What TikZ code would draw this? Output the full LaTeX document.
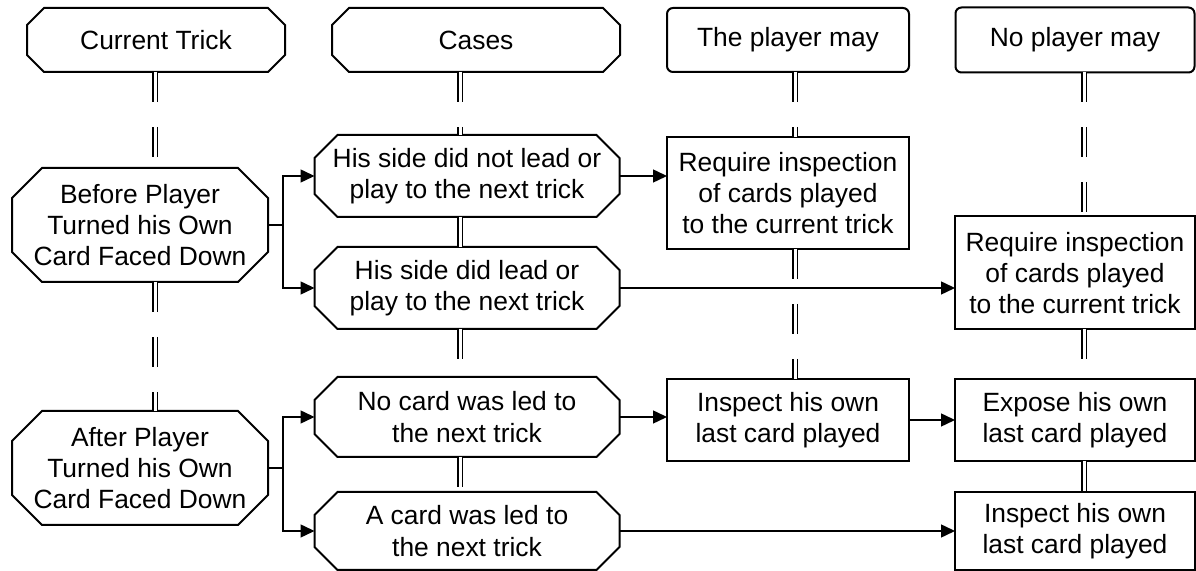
\documentclass[tikz,border=0pt]{standalone}
\usepackage{fontspec}
\setmainfont{Liberation Sans}
\usetikzlibrary{arrows.meta}

% octagon frame round a named node: #1 node, #2 size of the cut corners
\newcommand{\octframe}[2]{%
  \draw[line width=1pt] ([xshift=#2]#1.north west) -- ([xshift=-#2]#1.north east)
    -- ([yshift=-#2]#1.north east) -- ([yshift=#2]#1.south east)
    -- ([xshift=-#2]#1.south east) -- ([xshift=#2]#1.south west)
    -- ([yshift=#2]#1.south west) -- ([yshift=-#2]#1.north west) -- cycle;}

\begin{document}
\begin{tikzpicture}[x=0.5pt, y=-0.5pt,
  every node/.style={align=center, inner sep=0pt, outer sep=0pt, font=\fontsize{13.2pt}{15.6pt}\selectfont},
  rbox/.style={draw, line width=1pt, rounded corners=3pt},
  sbox/.style={draw, line width=1pt},
  link/.style={double, line width=0.65pt, double distance=1.5pt, dash pattern=on 15pt off 12.5pt},
  arr/.style={->, line width=0.75pt}, >={Triangle[length=7pt,width=6.5pt]}]
\useasboundingbox (0,0) rectangle (1196,571);
% Headers:
\node[minimum width=129pt, minimum height=32pt] (hCur) at (156,40) {Current Trick};
\node[minimum width=144pt, minimum height=32pt] (hCase) at (476,40) {Cases};
\node[rbox, minimum width=121pt, minimum height=32pt] (hMay) at (788,40) {The player may};
\node[rbox, minimum width=119.5pt, minimum height=32.5pt] (hNo) at (1075,40) {No player may};
% Current trick:
\node[minimum width=128pt, minimum height=57pt] (before) at (140,225) {Before Player\\Turned his Own\\Card Faced Down};
\node[minimum width=128pt, minimum height=57pt] (after) at (140,468) {After Player\\Turned his Own\\Card Faced Down};
% Cases:
\node[minimum width=152.5pt, minimum height=41pt] (cNot) at (467,176) {His side did not lead or\\play to the next trick};
\node[minimum width=152.5pt, minimum height=41pt] (cDid) at (467,288) {His side did lead or\\play to the next trick};
\node[minimum width=152.5pt, minimum height=40pt] (cNoCard) at (467,417) {No card was led to\\the next trick};
\node[minimum width=152.5pt, minimum height=39pt] (cCard) at (467,531) {A card was led to\\the next trick};
% The player may:
\node[sbox, minimum width=121pt, minimum height=56pt] (req1) at (788,193) {Require inspection\\of cards played\\to the current trick};
\node[sbox, minimum width=121pt, minimum height=41pt] (insp1) at (788,420) {Inspect his own\\last card played};
% No player may:
\node[sbox, minimum width=120pt, minimum height=56.5pt] (req2) at (1075,273) {Require inspection\\of cards played\\to the current trick};
\node[sbox, minimum width=120pt, minimum height=41pt] (expose) at (1075,420) {Expose his own\\last card played};
\node[sbox, minimum width=120pt, minimum height=39pt] (insp2) at (1075,531) {Inspect his own\\last card played};
% Octagon frames:
\octframe{hCur}{8.5pt}
\octframe{hCase}{8.5pt}
\octframe{before}{15pt}
\octframe{after}{15pt}
\octframe{cNot}{11.5pt}
\octframe{cDid}{11.5pt}
\octframe{cNoCard}{11.5pt}
\octframe{cCard}{11.5pt}
% Column lines:
\coordinate (c0) at (155,0);
\coordinate (c1) at (460,0);
\coordinate (c2) at (795,0);
\coordinate (c3) at (1084,0);
\draw[link] (c0 |- hCur.south) -- (c0 |- before.north);
\draw[link] (c0 |- before.south) -- (c0 |- after.north);
\draw[link] (c1 |- hCase.south) -- (c1 |- cNot.north);
\draw[link] (c1 |- cNot.south) -- (c1 |- cDid.north);
\draw[link] (c1 |- cDid.south) -- (c1 |- cNoCard.north);
\draw[link] (c1 |- cNoCard.south) -- (c1 |- cCard.north);
\draw[link] (c2 |- hMay.south) -- (c2 |- req1.north);
\draw[link] (c2 |- req1.south) -- (c2 |- insp1.north);
\draw[link] (c3 |- hNo.south) -- (c3 |- req2.north);
\draw[link] (c3 |- req2.south) -- (c3 |- expose.north);
\draw[link] (c3 |- expose.south) -- (c3 |- insp2.north);
% Arrows:
\draw[arr] (before.east) -- ++(15,0) |- (cNot.west);
\draw[arr] (before.east) -- ++(15,0) |- (cDid.west);
\draw[arr] (after.east) -- ++(15,0) |- (cNoCard.west);
\draw[arr] (after.east) -- ++(15,0) |- (cCard.west);
\draw[arr] (cNot.east) -- (cNot.east -| req1.west);
\draw[arr] (cDid.east) -- (cDid.east -| req2.west);
\draw[arr] (cNoCard.east) -- (cNoCard.east -| insp1.west);
\draw[arr] (insp1.east) -- (insp1.east -| expose.west);
\draw[arr] (cCard.east) -- (cCard.east -| insp2.west);
\end{tikzpicture}
\end{document}
